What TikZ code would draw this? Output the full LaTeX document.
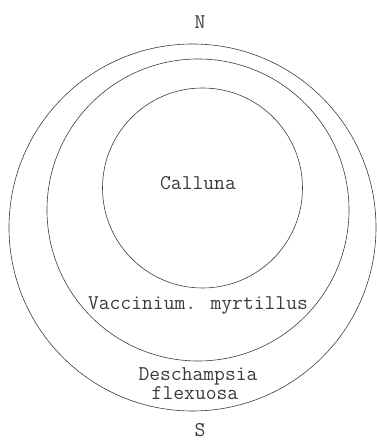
\documentclass[tikz,border=0pt]{standalone}
\usepackage{tikz}
\usepackage{xcolor}
\definecolor{inkgray}{RGB}{60,60,60}
\tikzset{zone/.style={draw=inkgray, line width=0.6pt, circle, inner sep=0pt},
         plant/.style={text=inkgray, font=\ttfamily\fontsize{21}{18}\selectfont, inner sep=0pt}}

\begin{document}
\begin{tikzpicture}[x=1pt,y=1pt]
            \useasboundingbox (0,0) rectangle (376,441);
            \node[zone, minimum size=367pt] (outer) at (192.5,213.5) {};
            \node[zone, minimum size=302pt] (middle) at (198,231) {};
            \node[zone, minimum size=200pt] (inner) at (202.5,253) {};
            \node[plant] (calluna) at (198,258) {Calluna};
            \node[plant, anchor=base] (vaccinium) at (198,131) {Vaccinium. myrtillus};
            \node[plant, anchor=base] (deschampsia) at (198,60) {Deschampsia};
            \node[plant, anchor=base] (flexuosa) at (195,41) {flexuosa};
            \node[plant] (north) at (200,419) {N};
            \node[plant, anchor=base, text depth=0pt] (south) at (200,5) {S};
        \end{tikzpicture}
\end{document}
